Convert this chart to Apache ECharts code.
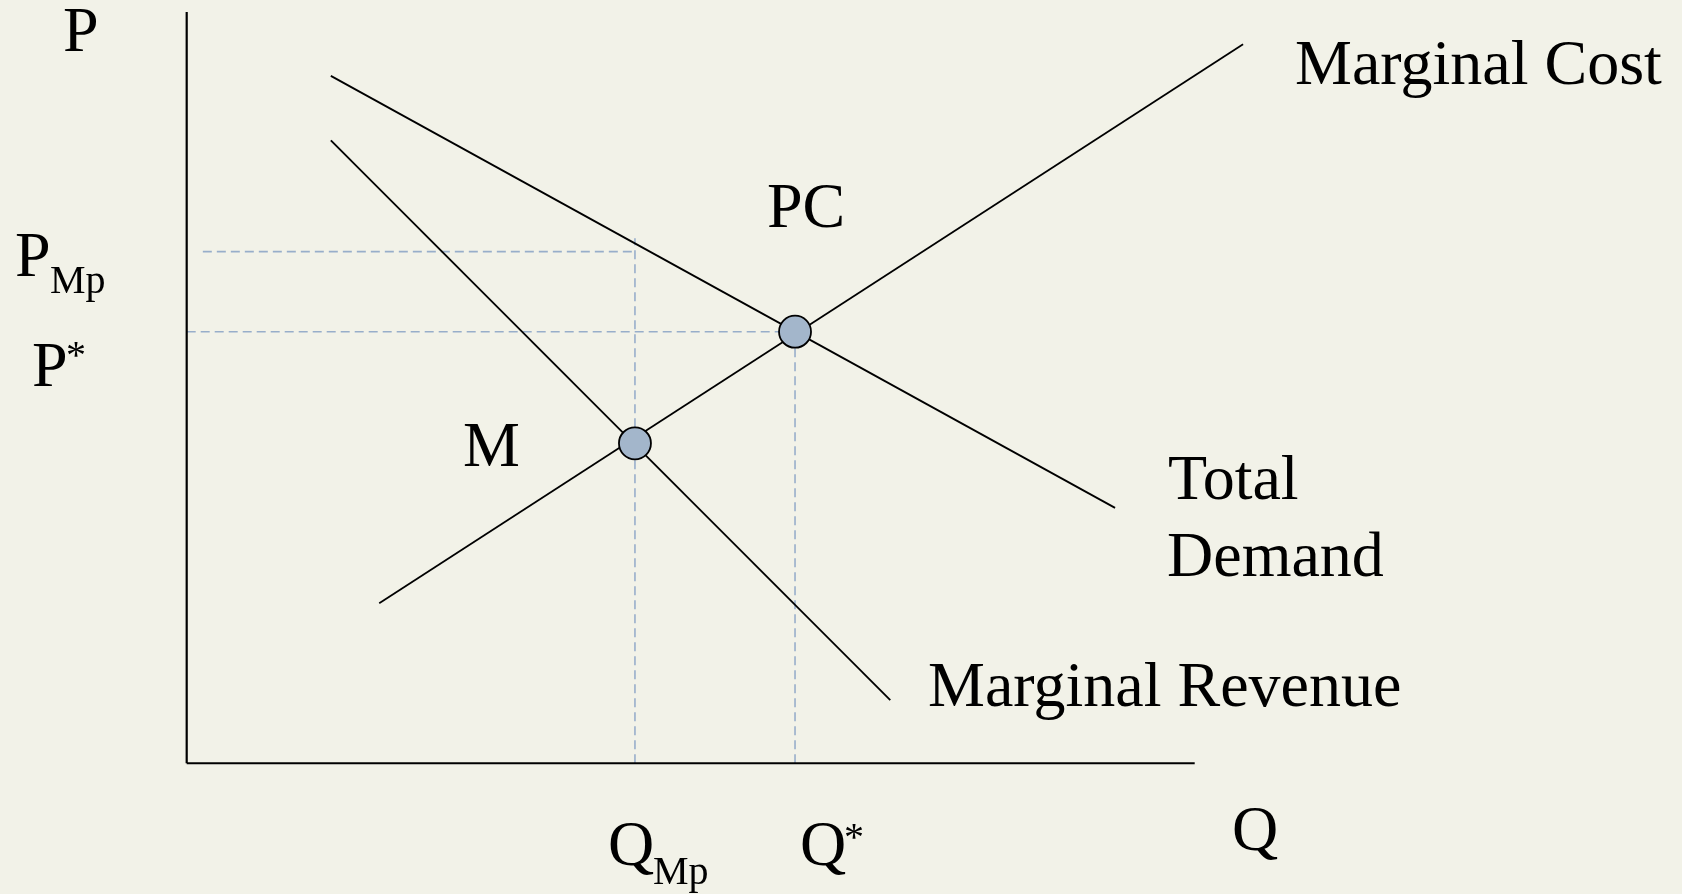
<!DOCTYPE html>
<html>
<head>
<meta charset="utf-8">
<script src="https://cdn.jsdelivr.net/npm/echarts@6/dist/echarts.min.js"></script>
<style>
  html, body { margin: 0; padding: 0; background: #F2F2E8; }
  #chart { width: 1682px; height: 894px; }
</style>
</head>
<body>
<div id="chart"></div>
<script>
// ---- data (quantity on x, price on y) ----
const totalDemand     = [[14.3, 91.5], [92.1, 34.0]];
const marginalRevenue = [[14.3, 82.9], [69.8, 8.4]];
const marginalCost    = [[19.1, 21.3], [104.8, 95.7]];
const monopolyPoint   = [44.47, 42.59];   // M
const competitivePoint = [60.35, 57.45];  // PC
const pMp = 68.1;       // monopoly price
const pMpStartQ = 1.6;
const qMpTop = 69.9;
const axisQMax = 100;
const axisPMax = 100;

const chart = echarts.init(document.getElementById('chart'), null, { renderer: 'canvas' });

const black = '#000000';
const guide = '#98AECA';
const FONT = '"Liberation Serif", "Times New Roman", serif';

function solid(name, data, width) {
  return { name, type: 'line', data, symbol: 'none', silent: true, z: 3,
    lineStyle: { color: black, width: width || 1.8 } };
}
function dashed(name, data) {
  return { name, type: 'line', data, symbol: 'none', silent: true, z: 2,
    lineStyle: { color: guide, width: 1.6, type: [9, 5] } };
}

// text helper: x = left, b = baseline
const DY = 4;
function txt(str, x, b, fs) {
  return { type: 'text', x: x, y: b + DY - 0.3375 * fs, silent: true,
    style: { text: str, font: fs + 'px ' + FONT, fill: black, align: 'left', verticalAlign: 'middle' } };
}

const option = {
  backgroundColor: '#F2F2E8',
  animation: false,
  grid: { left: 186.7, top: 12, width: 1108.8, height: 751.3 },
  xAxis: { type: 'value', min: 0, max: 110, show: false },
  yAxis: { type: 'value', min: 0, max: 100, show: false },
  series: [
    solid('Q axis', [[0, 0], [axisQMax, 0]], 2.2),
    solid('P axis', [[0, 0], [0, axisPMax]], 2.2),
    dashed('P_Mp guide', [[pMpStartQ, pMp], [monopolyPoint[0], pMp]]),
    dashed('P* guide', [[0, competitivePoint[1]], [competitivePoint[0], competitivePoint[1]]]),
    dashed('Q_Mp guide', [[monopolyPoint[0], 0], [monopolyPoint[0], qMpTop]]),
    dashed('Q* guide', [[competitivePoint[0], 0], competitivePoint]),
    solid('Total Demand', totalDemand),
    solid('Marginal Revenue', marginalRevenue),
    solid('Marginal Cost', marginalCost),
    { name: 'Equilibria', type: 'scatter', z: 5, silent: true,
      data: [monopolyPoint, competitivePoint], symbol: 'circle', symbolSize: 32,
      itemStyle: { color: '#A3B6CB', borderColor: black, borderWidth: 1.8, opacity: 1 } }
  ],
  graphic: [
    txt('P', 63, 52, 64),
    txt('P', 15, 277, 64), txt('Mp', 50, 292, 40),
    txt('P', 32, 387, 64), txt('*', 66, 367, 40),
    txt('M', 463, 467, 64),
    txt('PC', 767, 228, 64),
    txt('Marginal Cost', 1295, 85, 64),
    txt('Total', 1168, 500, 64),
    txt('Demand', 1167, 577, 64),
    txt('Marginal Revenue', 928, 707, 64),
    txt('Q', 1232, 851, 64),
    txt('Q', 608, 866, 64), txt('Mp', 653, 883, 40),
    txt('Q', 800, 866, 64), txt('*', 844, 849, 40)
  ]
};
chart.setOption(option);
</script>
</body>
</html>
